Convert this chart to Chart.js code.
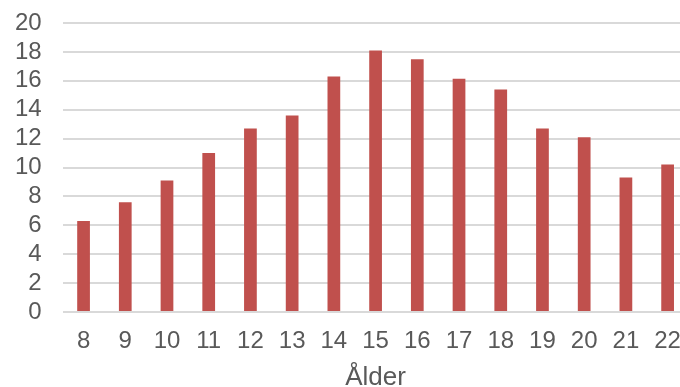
<!DOCTYPE html>
<html>
<head>
<meta charset="utf-8">
<script src="https://cdn.jsdelivr.net/npm/chart.js@4"></script>
<style>
  html, body { margin: 0; padding: 0; background: #ffffff; overflow: hidden; }
  #wrap { position: relative; width: 690px; height: 401px; margin-top: -10px; }
</style>
</head>
<body>
<div id="wrap"><canvas id="chart"></canvas></div>
<script>
// Age groups along the x axis
const ages = ['8', '9', '10', '11', '12', '13', '14', '15', '16', '17', '18', '19', '20', '21', '22'];
// Value per age
const values = [6.3, 7.6, 9.1, 11.0, 12.7, 13.6, 16.3, 18.1, 17.5, 16.15, 15.4, 12.7, 12.1, 9.3, 10.2];
// Y axis range and step
const yMin = 0;
const yMax = 20;
const yStep = 2;
const xTitle = 'Ålder';

const textColor = '#595959';
const family = '"Liberation Sans", Arial, sans-serif';
const tickFont = { family: family, size: 24, lineHeight: 1.0 };

new Chart(document.getElementById('chart'), {
  type: 'bar',
  data: {
    labels: ages,
    datasets: [{
      data: values,
      backgroundColor: '#C0504D',
      borderWidth: 0,
      barPercentage: 0.305,
      categoryPercentage: 1.0
    }]
  },
  options: {
    responsive: true,
    maintainAspectRatio: false,
    animation: false,
    devicePixelRatio: 1,
    layout: { padding: { left: -6, right: 1, top: -1, bottom: 0 } },
    plugins: { legend: { display: false }, tooltip: { enabled: false } },
    scales: {
      x: {
        grid: { display: false },
        border: { display: false },
        ticks: { color: textColor, font: tickFont, padding: 9, maxRotation: 0, autoSkip: false },
        title: {
          display: true,
          text: xTitle,
          color: textColor,
          font: { family: family, size: 26, lineHeight: 1.0 },
          padding: { top: 3, bottom: 0 }
        }
      },
      y: {
        min: yMin,
        max: yMax,
        grid: { color: '#d9d9d9', lineWidth: 2, drawTicks: false },
        border: { display: false },
        ticks: { stepSize: yStep, color: textColor, font: tickFont, padding: 21, autoSkip: false }
      }
    }
  }
});
</script>
</body>
</html>
